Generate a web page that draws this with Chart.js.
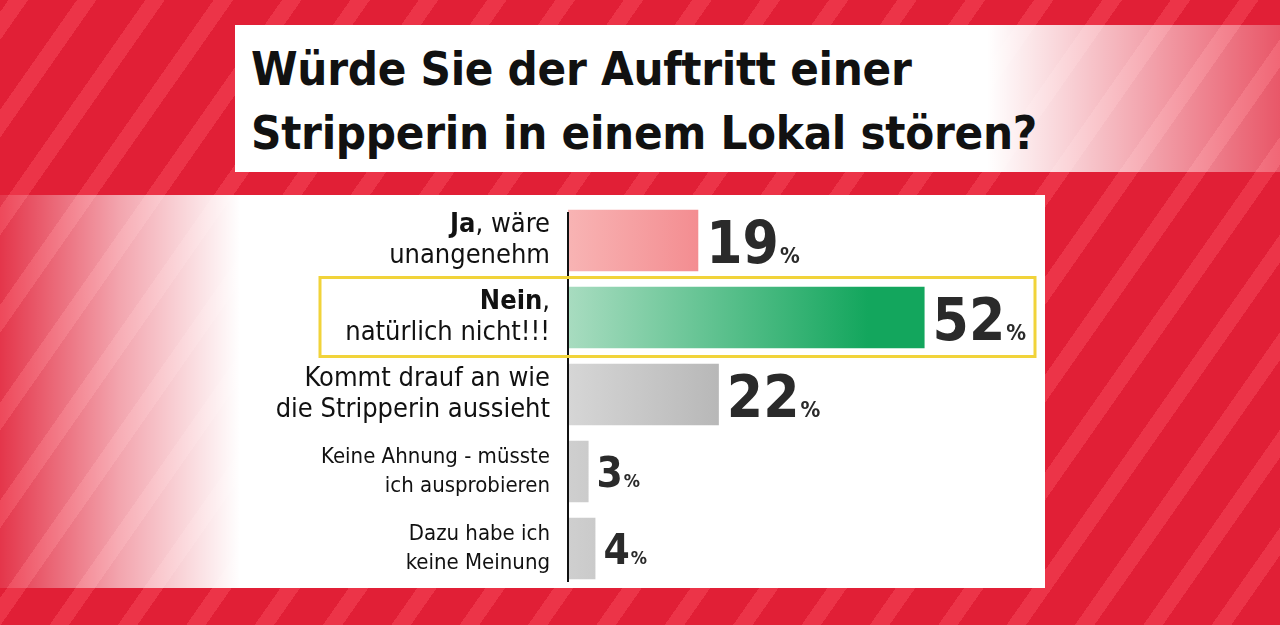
<!DOCTYPE html>
<html><head><meta charset="utf-8">
<script src="https://cdn.jsdelivr.net/npm/chart.js@4"></script>
<style>
body{margin:0;width:1280px;height:625px;overflow:hidden;position:relative;
 background:repeating-linear-gradient(-55deg,#e11f36 0 40px,#ec3448 40px 56px);}
#title{position:absolute;left:235px;top:25px;width:1045px;height:147px;
 background:linear-gradient(90deg,#fff 0,#fff 72%,rgba(255,255,255,0.25) 100%);}
#title h1{margin:0;padding:12px 0 0 16px;font:bold 47px/64px "DejaVu Sans Condensed",sans-serif;color:#111;letter-spacing:-0.3px}
#panel{position:absolute;left:0;top:195px;width:1045px;height:393px;
 background:linear-gradient(90deg,rgba(255,255,255,0.1) 0,rgba(255,255,255,0.6) 120px,#fff 240px,#fff 100%);}
#wrap{position:absolute;left:0;top:0;width:1280px;height:625px}
</style></head><body>
<div id="title"><h1>Würde Sie der Auftritt einer<br>Stripperin in einem Lokal stören?</h1></div>
<div id="panel"></div>
<div id="wrap"><canvas id="c" width="1280" height="625"></canvas></div>
<script>
const categories = ['Ja, wäre unangenehm','Nein, natürlich nicht!!!','Kommt drauf an wie die Stripperin aussieht','Keine Ahnung - müsste ich ausprobieren','Dazu habe ich keine Meinung'];
const lines = [['Ja, wäre','unangenehm'],['Nein,','natürlich nicht!!!'],['Kommt drauf an wie','die Stripperin aussieht'],['Keine Ahnung - müsste','ich ausprobieren'],['Dazu habe ich','keine Meinung']];
const boldWord = ['Ja','Nein','','',''];
const values = [19,52,22,3,4];
const colorsA = ['#f8b4b4','#a8dcc0','#d6d6d6','#cfcfcf','#cfcfcf'];
const colorsB = ['#ee5a63','#13a65d','#9a9a9a','#9a9a9a','#9a9a9a'];
const FONT = '"DejaVu Sans Condensed",sans-serif';

const deco = {
  id:'deco',
  afterDatasetsDraw(chart){
    const ctx = chart.ctx, x = chart.scales.x, meta = chart.getDatasetMeta(0);
    ctx.save();
    ctx.strokeStyle='#111';ctx.lineWidth=2;
    ctx.beginPath();ctx.moveTo(x.getPixelForValue(0),chart.chartArea.top+10);ctx.lineTo(x.getPixelForValue(0),chart.chartArea.bottom-5);ctx.stroke();
    meta.data.forEach((bar,i)=>{
      const big = i<3;
      const fs = big?27:22;
      ctx.textAlign='right';ctx.textBaseline='middle';ctx.fillStyle='#111';
      const lx = 550, gap = big?31:29;
      lines[i].forEach((ln,j)=>{
        const y = bar.y + (j-0.5)*gap;
        const bw = j===0?boldWord[i]:'';
        if(bw && ln.startsWith(bw)){
          ctx.font=`${fs}px ${FONT}`;
          const rest = ln.slice(bw.length);
          ctx.fillText(rest,lx,y);
          const w = ctx.measureText(rest).width;
          ctx.font=`bold ${fs}px ${FONT}`;
          ctx.fillText(bw,lx-w,y);
        } else {
          ctx.font=`${fs}px ${FONT}`;
          ctx.fillText(ln,lx,y);
        }
      });
      ctx.textAlign='left';ctx.textBaseline='alphabetic';
      const vs = big?58:42, ps = big?22:18;
      ctx.font=`bold ${vs}px ${FONT}`;
      const vx = bar.x+8, vy = bar.y + vs*0.38;
      ctx.fillStyle='#2a2a2a';
      ctx.fillText(String(values[i]),vx,vy);
      const w = ctx.measureText(String(values[i])).width;
      ctx.font=`bold ${ps}px ${FONT}`;
      ctx.fillText('%',vx+w+1,vy);
      if(i===1){
        ctx.strokeStyle='#f1d33a';ctx.lineWidth=3;
        ctx.strokeRect(320,bar.y-40,715,79);
      }
    });
    ctx.restore();
  }
};

new Chart(document.getElementById('c'),{
  type:'bar',
  data:{labels:categories,datasets:[{data:values,borderWidth:0,barPercentage:0.8,categoryPercentage:1,
    backgroundColor(c){
      const a=c.chart.chartArea; if(!a) return '#ccc';
      const el=c.chart.getDatasetMeta(0).data[c.dataIndex];
      const g=c.chart.ctx.createLinearGradient(a.left,0,el&&el.x>a.left+5?el.x:a.left+300,0);
      g.addColorStop(0,colorsA[c.dataIndex]);g.addColorStop(1,colorsB[c.dataIndex]);return g;
    }}]},
  options:{indexAxis:'y',responsive:false,animation:false,
    layout:{padding:{left:568,right:232,top:202,bottom:38}},
    plugins:{legend:{display:false},tooltip:{enabled:false}},
    scales:{x:{display:false,min:0,max:70},y:{display:false}}},
  plugins:[deco]
});
</script>
</body></html>
